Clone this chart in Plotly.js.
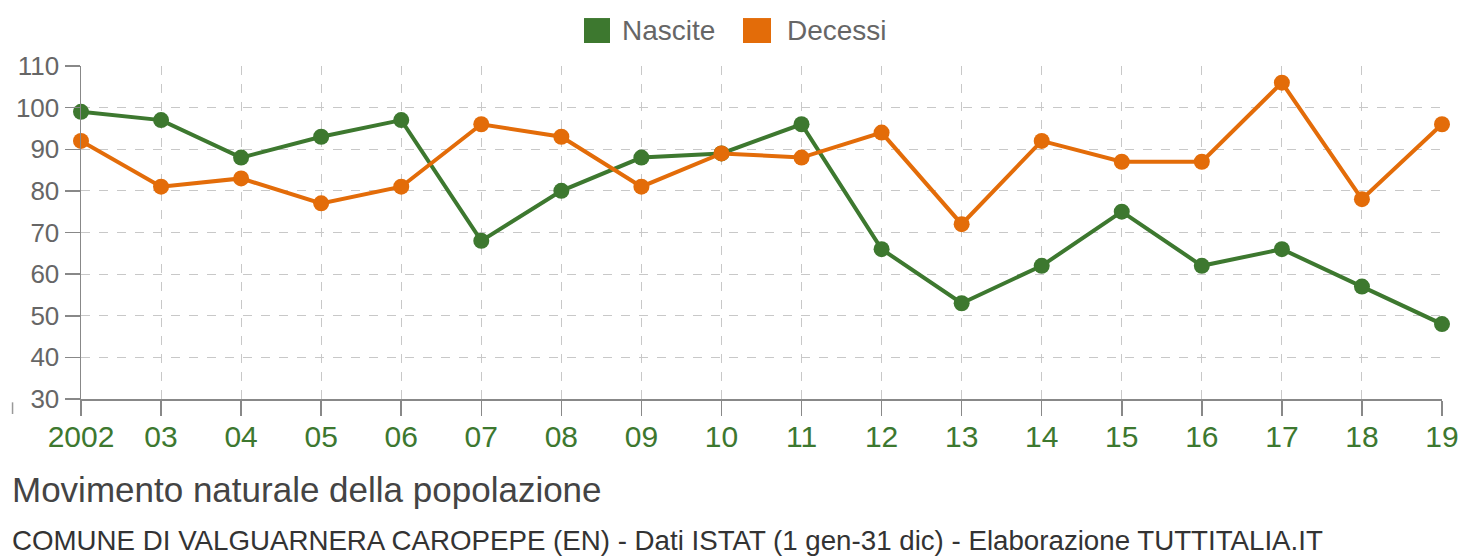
<!DOCTYPE html>
<html>
<head>
<meta charset="utf-8">
<script src="https://cdn.plot.ly/plotly-3.0.1.min.js"></script>
<style>html,body{margin:0;padding:0;background:#fff;}#chart{width:1478px;height:556px;}</style>
</head>
<body>
<div id="chart"></div>
<script>
const years = [2002,2003,2004,2005,2006,2007,2008,2009,2010,2011,2012,2013,2014,2015,2016,2017,2018,2019];
const tickLabels = ["2002","03","04","05","06","07","08","09","10","11","12","13","14","15","16","17","18","19"];
const nascite = [99,97,88,93,97,68,80,88,89,96,66,53,62,75,62,66,57,48];
const decessi = [92,81,83,77,81,96,93,81,89,88,94,72,92,87,87,106,78,96];
const seriesNames = ["Nascite","Decessi"];
const titleText = "Movimento naturale della popolazione";
const subtitleText = "COMUNE DI VALGUARNERA CAROPEPE (EN) - Dati ISTAT (1 gen-31 dic) - Elaborazione TUTTITALIA.IT";

const GREEN = "#3d782f";
const ORANGE = "#e36c09";
const FONT = "Liberation Sans, Arial, sans-serif";

const traces = [
  {x: years, y: nascite, name: seriesNames[0], type: "scatter", mode: "lines+markers",
   line: {color: GREEN, width: 4}, marker: {color: GREEN, size: 16}, cliponaxis: false, showlegend: false},
  {x: years, y: decessi, name: seriesNames[1], type: "scatter", mode: "lines+markers",
   line: {color: ORANGE, width: 4}, marker: {color: ORANGE, size: 16}, cliponaxis: false, showlegend: false}
];

const layout = {
  width: 1478, height: 556,
  margin: {l: 81, r: 36, t: 66, b: 157},
  paper_bgcolor: "#fff", plot_bgcolor: "#fff",
  font: {family: FONT, color: "#666"},
  showlegend: false,
  xaxis: {
    range: [2002, 2019], tickvals: years, ticktext: tickLabels,
    showgrid: true, gridcolor: "#c8c8c8", griddash: "dash", gridwidth: 1,
    showline: true, linecolor: "#888", linewidth: 1.5,
    ticks: "outside", ticklen: 15, tickcolor: "#888", tickwidth: 1.5, ticklabelstandoff: -5,
    tickfont: {size: 30, color: GREEN, family: FONT}, zeroline: false, fixedrange: true
  },
  yaxis: {
    range: [30, 110], dtick: 10, tick0: 30,
    showgrid: true, gridcolor: "#c8c8c8", griddash: "dash", gridwidth: 1,
    showline: true, linecolor: "#888", linewidth: 1.5,
    ticks: "outside", ticklen: 15, tickcolor: "#888", tickwidth: 1.5,
    tickfont: {size: 26, color: "#666", family: FONT}, zeroline: false, fixedrange: true
  },
  shapes: [
    {type: "rect", xref: "paper", yref: "paper", x0: 0.3696, x1: 0.3887, y0: 1.069, y1: 1.144,
     fillcolor: GREEN, line: {width: 0}},
    {type: "rect", xref: "paper", yref: "paper", x0: 0.4864, x1: 0.5070, y0: 1.069, y1: 1.144,
     fillcolor: ORANGE, line: {width: 0}},
    {type: "line", xref: "paper", yref: "paper", x0: -0.0503, x1: -0.0503, y0: -0.01, y1: -0.045,
     line: {color: "#999", width: 1.5}}
  ],
  annotations: [
    {text: seriesNames[0], xref: "paper", yref: "paper", x: 0.396, y: 1.108, xanchor: "left", yanchor: "middle",
     showarrow: false, font: {size: 28, color: "#666", family: FONT}},
    {text: seriesNames[1], xref: "paper", yref: "paper", x: 0.5173, y: 1.108, xanchor: "left", yanchor: "middle",
     showarrow: false, font: {size: 28, color: "#666", family: FONT}},
    {text: titleText, xref: "paper", yref: "paper", x: -0.052, y: -0.273, xanchor: "left", yanchor: "middle",
     showarrow: false, font: {size: 35, color: "#444", family: FONT}},
    {text: subtitleText, xref: "paper", yref: "paper", x: -0.052, y: -0.426, xanchor: "left", yanchor: "middle",
     showarrow: false, font: {size: 27.7, color: "#333", family: FONT}}
  ]
};

Plotly.newPlot("chart", traces, layout, {displayModeBar: false, staticPlot: true});
</script>
</body>
</html>
